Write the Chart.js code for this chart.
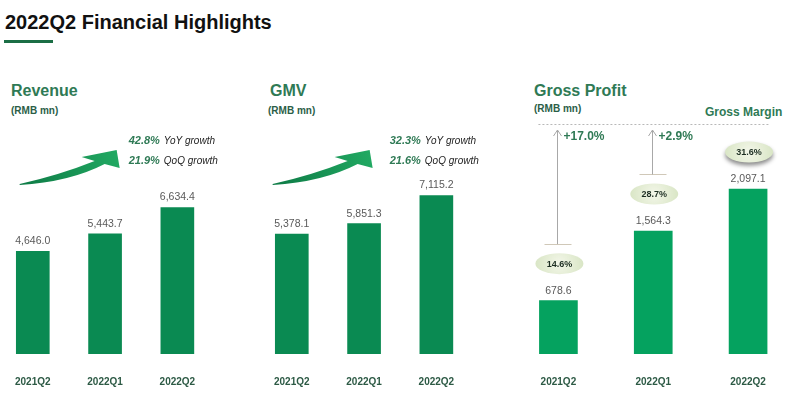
<!DOCTYPE html>
<html>
<head>
<meta charset="utf-8">
<script src="https://cdn.jsdelivr.net/npm/chart.js@4"></script>
<style>
html, body { margin: 0; padding: 0; background: #fff; }
body { width: 800px; height: 399px; position: relative; overflow: hidden; font-family: 'Liberation Sans', Arial, sans-serif; }
.t { position: absolute; white-space: nowrap; font-weight: bold; line-height: 1; }
.head { font-size: 16px; color: #2f7a55; }
.unit { font-size: 10px; color: #2b5e47; }
canvas { position: absolute; top: 0; }
</style>
</head>
<body>
<div class="t" style="left:5px;top:12px;font-size:20px;color:#111">2022Q2 Financial Highlights</div>
<div style="position:absolute;left:4px;top:40px;width:49px;height:3px;background:#1b6e45"></div>

<div class="t head" style="left:11px;top:82.5px">Revenue</div>
<div class="t unit" style="left:11px;top:105.5px">(RMB mn)</div>
<div class="t head" style="left:270px;top:82.5px">GMV</div>
<div class="t unit" style="left:268px;top:105.5px">(RMB mn)</div>
<div class="t head" style="left:534px;top:82.5px">Gross Profit</div>
<div class="t unit" style="left:534px;top:103.5px">(RMB mn)</div>
<div class="t" style="left:705px;top:106px;font-size:12px;color:#2f7a55">Gross Margin</div>

<canvas id="revenueChart" width="260" height="421" style="left:-7.25px"></canvas>
<canvas id="gmvChart" width="240" height="421" style="left:251.75px"></canvas>
<canvas id="profitChart" width="289.5" height="421" style="left:510.5px"></canvas>

<script>
const FONT = "'Liberation Sans', Arial, sans-serif";

const quarters = ['2021Q2', '2022Q1', '2022Q2'];
const revenue = [4646.0, 5443.7, 6634.4];
const gmv = [5378.1, 5851.3, 7115.2];
const grossProfit = [678.6, 1564.3, 2097.1];
const grossMargin = [14.6, 28.7, 31.6];
const marginChange = ['+17.0%', '+2.9%'];
const revenueGrowth = ['42.8%', '21.9%'];
const gmvGrowth = ['32.3%', '21.6%'];

// number above each bar
const valueLabels = {
    id: 'valueLabels',
    afterDatasetsDraw(chart) {
        const ctx = chart.ctx;
        const meta = chart.getDatasetMeta(0);
        ctx.save();
        ctx.font = '10.5px ' + FONT;
        ctx.fillStyle = '#595959';
        ctx.textAlign = 'center';
        ctx.textBaseline = 'middle';
        meta.data.forEach((bar, i) => {
            const v = chart.data.datasets[0].data[i];
            const txt = v.toLocaleString('en-US', { minimumFractionDigits: 1, maximumFractionDigits: 1 });
            ctx.fillText(txt, bar.x, bar.y - 10);
        });
        ctx.restore();
    }
};

// green swoosh arrow + YoY / QoQ text
function growthPlugin(growth, arrowX, textX) {
    return {
        id: 'growth',
        afterDraw(chart) {
            const ctx = chart.ctx;
            const x0 = chart.chartArea.left + arrowX, y0 = 185;
            ctx.save();
            const grad = ctx.createLinearGradient(x0, y0, x0 + 100, y0 - 30);
            grad.addColorStop(0, '#0d7a45');
            grad.addColorStop(1, '#22aa63');
            ctx.fillStyle = grad;
            ctx.beginPath();
            ctx.moveTo(x0, y0);
            ctx.quadraticCurveTo(x0 + 50, y0 - 3, x0 + 85, y0 - 21);
            ctx.lineTo(x0 + 100, y0 - 17);
            ctx.lineTo(x0 + 97, y0 - 35);
            ctx.lineTo(x0 + 62, y0 - 28);
            ctx.lineTo(x0 + 75, y0 - 24);
            ctx.quadraticCurveTo(x0 + 40, y0 - 10, x0, y0 - 1);
            ctx.closePath();
            ctx.fill();

            const tx = chart.chartArea.left + textX;
            const rows = [[growth[0], 'YoY growth', 141], [growth[1], 'QoQ growth', 161]];
            ctx.textBaseline = 'middle';
            ctx.textAlign = 'left';
            rows.forEach(r => {
                ctx.font = 'italic bold 11px ' + FONT;
                ctx.fillStyle = '#2f7a55';
                ctx.fillText(r[0], tx, r[2]);
                const w = ctx.measureText(r[0]).width;
                ctx.font = 'italic 10px ' + FONT;
                ctx.fillStyle = '#222';
                ctx.fillText(r[1], tx + w + 4, r[2]);
            });
            ctx.restore();
        }
    };
}

// gross margin bubbles, arrows and dotted line
const marginPlugin = {
    id: 'marginNotes',
    afterDraw(chart) {
        const ctx = chart.ctx;
        const bars = chart.getDatasetMeta(0).data;
        ctx.save();

        // dotted line
        ctx.strokeStyle = '#b8b8b8';
        ctx.lineWidth = 1;
        ctx.setLineDash([2, 2]);
        ctx.beginPath();
        ctx.moveTo(bars[0].x - 20, 124.5);
        ctx.lineTo(bars[2].x + 22, 124.5);
        ctx.stroke();
        ctx.setLineDash([]);

        bars.forEach((bar, i) => {
            const cx = bar.x + 1, cy = bar.y - 37;
            ctx.save();
            if (i === 2) {
                ctx.shadowColor = 'rgba(0,0,0,0.45)';
                ctx.shadowBlur = 4;
                ctx.shadowOffsetY = 3;
            }
            const g = ctx.createRadialGradient(cx, cy, 2, cx, cy, 25);
            g.addColorStop(0, '#f1f5e6');
            g.addColorStop(1, '#d8e5c4');
            ctx.fillStyle = g;
            ctx.beginPath();
            ctx.ellipse(cx, cy, 24, 10.5, 0, 0, Math.PI * 2);
            ctx.fill();
            ctx.restore();

            ctx.font = 'bold 9px ' + FONT;
            ctx.fillStyle = '#1d2e22';
            ctx.textAlign = 'center';
            ctx.textBaseline = 'middle';
            ctx.fillText(grossMargin[i].toFixed(1) + '%', cx, cy + 0.5);

            if (i < 2) {
                const ax = Math.round(bar.x - 1) + 0.5;
                const ay = cy - 10.5 - 9;
                ctx.strokeStyle = '#d0c8b8';
                ctx.beginPath();
                ctx.moveTo(ax - 13, Math.round(ay) + 0.5);
                ctx.lineTo(ax + 14, Math.round(ay) + 0.5);
                ctx.stroke();

                ctx.strokeStyle = '#a8a8a8';
                ctx.beginPath();
                ctx.moveTo(ax, ay);
                ctx.lineTo(ax, 130);
                ctx.moveTo(ax - 4, 136);
                ctx.lineTo(ax, 130);
                ctx.lineTo(ax + 4, 136);
                ctx.stroke();

                ctx.font = 'bold 12px ' + FONT;
                ctx.fillStyle = '#2f7a55';
                ctx.textAlign = 'left';
                ctx.fillText(marginChange[i], ax + 6, 137);
            }
        });
        ctx.restore();
    }
};

function barOptions(yMax, padRight) {
    return {
        responsive: false,
        animation: false,
        layout: { padding: { left: 0, right: padRight, top: 100, bottom: 11 } },
        plugins: {
            legend: { display: false },
            tooltip: { enabled: false }
        },
        scales: {
            x: {
                grid: { display: false, drawTicks: false },
                border: { display: false },
                ticks: {
                    padding: 22,
                    color: '#2d5a45',
                    font: { family: FONT, size: 10, weight: 'bold' }
                }
            },
            y: { display: false, min: 0, max: yMax }
        }
    };
}

new Chart(document.getElementById('revenueChart'), {
    type: 'bar',
    data: {
        labels: quarters,
        datasets: [{ data: revenue, backgroundColor: '#0a8a52', barThickness: 33 }]
    },
    options: barOptions(11500, 39.5),
    plugins: [valueLabels, growthPlugin(revenueGrowth, 23, 132)]
});

new Chart(document.getElementById('gmvChart'), {
    type: 'bar',
    data: {
        labels: quarters,
        datasets: [{ data: gmv, backgroundColor: '#0a8a52', barThickness: 33 }]
    },
    options: barOptions(11400, 19.5),
    plugins: [valueLabels, growthPlugin(gmvGrowth, 17, 134)]
});

new Chart(document.getElementById('profitChart'), {
    type: 'bar',
    data: {
        labels: quarters,
        datasets: [{ data: grossProfit, backgroundColor: '#05a25f', barThickness: 38 }]
    },
    options: barOptions(3230, 4.5),
    plugins: [valueLabels, marginPlugin]
});
</script>
</body>
</html>
